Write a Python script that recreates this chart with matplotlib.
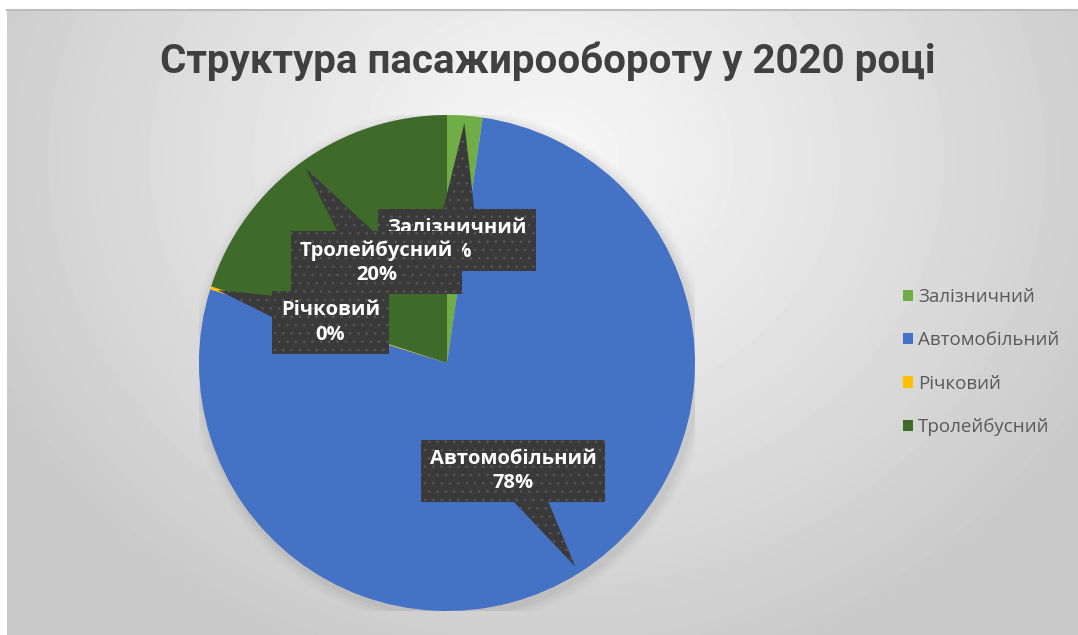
import numpy as np
import matplotlib.pyplot as plt
from matplotlib.patches import Polygon

# Data
categories = ["Залізничний", "Автомобільний", "Річковий", "Тролейбусний"]
shares = [2.3, 77.5, 0.2, 20.0]
pct_labels = ["2%", "78%", "0%", "20%"]
colors = ["#70AD47", "#4472C4", "#FFC000", "#3E6B2A"]
title = "Структура пасажирообороту у 2020 році"

# callout box centres, in pie units (radius = 1)
label_pos = [(0.04, 0.496), (0.266, -0.435), (-0.47, 0.163), (-0.284, 0.405)]
draw_order = [0, 1, 3, 2]

plt.rcParams["hatch.linewidth"] = 0.6

W, H = 1078, 635
fig = plt.figure(figsize=(W / 100, H / 100), dpi=100)
fig.patch.set_facecolor("white")

# radial grey gradient background of the chart area
bg = fig.add_axes([7 / W, 0, 1 - 7 / W, (H - 9) / H])
yy, xx = np.mgrid[0:H - 9, 0:W - 7]
r = np.sqrt(((xx - 540) / 650) ** 2 + ((yy - 150) / 560) ** 2)
shade = np.clip(0.97 - 0.19 * r ** 1.1, 0.79, 1)
bg.imshow(shade, cmap="gray", vmin=0, vmax=1, aspect="auto", interpolation="bilinear")
bg.set_axis_off()
fig.add_artist(plt.Line2D([7 / W, 1], [(H - 9.5) / H] * 2, color="#bdbdbd", lw=1.5))

# pie axes: centre (447, 363) px, radius 248 px
cx, cy, rad = 447, 363, 248
ax = fig.add_axes([(cx - rad) / W, (H - cy - rad) / H, 2 * rad / W, 2 * rad / H])
ax.set_axis_off()

# soft shadow around the pie
for k, a in enumerate([0.05, 0.04, 0.03, 0.02]):
    ax.add_patch(plt.Circle((0.01, -0.015), 1 + 0.012 * (k + 1), color="#555555", alpha=a, lw=0))

wedges, _ = ax.pie(shares, colors=colors, startangle=90, counterclock=False,
                   radius=1, wedgeprops=dict(linewidth=0))
ax.set_xlim(-1, 1)
ax.set_ylim(-1, 1)

# data label callouts
for i in draw_order:
    w = wedges[i]
    mid = np.deg2rad((w.theta1 + w.theta2) / 2)
    tip = np.array([np.cos(mid), np.sin(mid)]) * 0.97
    bx, by = label_pos[i]
    d = tip - np.array([bx, by])
    n = np.array([-d[1], d[0]]) / np.hypot(*d) * 0.085
    z = 5 + draw_order.index(i) * 2
    ptr = Polygon([tip, (bx + n[0], by + n[1]), (bx - n[0], by - n[1])],
                  closed=True, facecolor="#3a3a3a", edgecolor="#585858", lw=0,
                  hatch="..", zorder=z)
    ax.add_patch(ptr)
    ax.text(bx, by, f"{categories[i]}\n{pct_labels[i]}", ha="center", va="center",
            color="white", fontsize=14.5, fontweight="bold", family="Open Sans",
            linespacing=1.3, zorder=z + 1,
            bbox=dict(boxstyle="square,pad=0.45", facecolor="#3a3a3a",
                      edgecolor="#585858", lw=0, hatch=".."))

# title
fig.text(548 / W, 1 - 73 / H, title, ha="center", va="baseline", fontsize=29,
         fontweight="bold", family="Roboto", color="#404040")

# legend
leg = fig.legend(wedges, categories, loc="center left", bbox_to_anchor=(903 / W, 1 - 362 / H),
                 frameon=False, prop=dict(family="Open Sans", size=13.5),
                 handlelength=0.55, handleheight=0.55, handletextpad=0.25,
                 labelspacing=1.35, borderpad=0, borderaxespad=0)
for t in leg.get_texts():
    t.set_color("#595959")

plt.savefig("out.png", dpi=100)
